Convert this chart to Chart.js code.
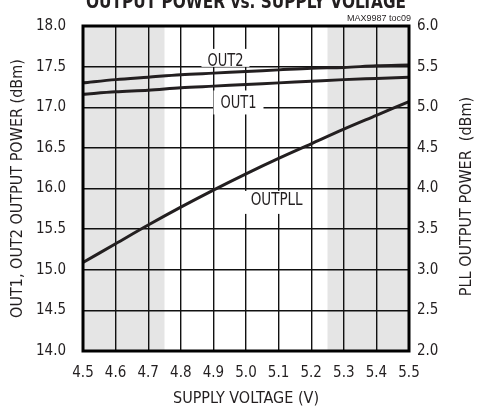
<!DOCTYPE html>
<html>
<head>
<meta charset="utf-8">
<script src="https://cdn.jsdelivr.net/npm/chart.js@4"></script>
<style>
  html, body { margin: 0; padding: 0; background: #fff; }
</style>
</head>
<body>
<canvas id="chart" width="486" height="408"></canvas>
<script>
// supply voltage (V)
var voltage = [4.5, 4.6, 4.7, 4.8, 4.9, 5.0, 5.1, 5.2, 5.3, 5.4, 5.5];

// left axis (dBm)
var out2 = [17.30, 17.34, 17.37, 17.40, 17.42, 17.44, 17.46, 17.48, 17.49, 17.51, 17.52];
var out1 = [17.16, 17.19, 17.21, 17.24, 17.26, 17.28, 17.30, 17.32, 17.34, 17.355, 17.37];

// right axis (dBm)
var outpll = [3.09, 3.32, 3.55, 3.77, 3.98, 4.18, 4.37, 4.55, 4.73, 4.90, 5.07];

var seriesNames = ['OUT2', 'OUT1', 'OUTPLL'];
var shadeRanges = [[4.5, 4.75], [5.25, 5.5]];

var chartTitle = 'OUTPUT POWER vs. SUPPLY VOLTAGE';
var tocText = 'MAX9987 toc09';
var xTitle = 'SUPPLY VOLTAGE (V)';
var yTitle = 'OUT1, OUT2 OUTPUT POWER (dBm)';
var y2Title = 'PLL OUTPUT POWER  (dBm)';

var FONT = '"DejaVu Sans Condensed", "Liberation Sans", sans-serif';
var INK = '#231f20';

function pts(ys) {
    return voltage.map((v, i) => ({x: v, y: ys[i]}));
}

// where the curve labels sit, in left-axis data units
var labelSpots = [
    {x: 4.937, y: 17.583, w: 36, padX: 6, padT: 11, padB: 7},
    {x: 4.977, y: 17.059, w: 36, padX: 7, padT: 12, padB: 12},
    {x: 5.094, y: 15.872, w: 52, padX: 7, padT: 8, padB: 15}
];

var decor = {
    id: 'decor',
    beforeDraw(chart) {
        const {ctx, chartArea: a, scales: {x}} = chart;
        ctx.save();
        ctx.fillStyle = '#e5e5e5';
        shadeRanges.forEach(r => {
            const x0 = x.getPixelForValue(r[0]);
            const x1 = x.getPixelForValue(r[1]);
            ctx.fillRect(x0, a.top, x1 - x0, a.bottom - a.top);
        });
        ctx.restore();
    },
    beforeDatasetsDraw(chart) {
        const {ctx, scales: {x, y}} = chart;
        ctx.save();
        ctx.font = '18px ' + FONT;
        ctx.textAlign = 'center';
        ctx.textBaseline = 'middle';
        seriesNames.forEach((name, i) => {
            const s = labelSpots[i];
            const cx = x.getPixelForValue(s.x);
            const cy = y.getPixelForValue(s.y);
            ctx.fillStyle = '#fff';
            ctx.fillRect(cx - s.w / 2 - s.padX, cy - s.padT, s.w + 2 * s.padX, s.padT + s.padB);
            ctx.fillStyle = INK;
            ctx.fillText(name, cx, cy + 1, s.w);
        });
        ctx.restore();
    },
    afterDatasetsDraw(chart) {
        const {ctx, chartArea: a} = chart;
        ctx.save();
        ctx.strokeStyle = '#000';
        ctx.lineWidth = 3;
        ctx.strokeRect(a.left, a.top, a.right - a.left, a.bottom - a.top);
        ctx.restore();
    },
    afterDraw(chart) {
        const {ctx, chartArea: a} = chart;
        ctx.save();
        ctx.fillStyle = INK;

        ctx.font = 'bold 20px ' + FONT;
        ctx.textAlign = 'center';
        ctx.textBaseline = 'alphabetic';
        ctx.fillText(chartTitle, (a.left + a.right) / 2, a.top - 18, 320);

        ctx.font = '9px "Liberation Sans", Arial, sans-serif';
        ctx.textAlign = 'right';
        ctx.fillText(tocText, a.right + 2, a.top - 5.5);

        ctx.font = '16px ' + FONT;
        ctx.textAlign = 'center';
        ctx.textBaseline = 'middle';
        ctx.translate(a.right + 57.5, (a.top + a.bottom) / 2 + 8);
        ctx.rotate(-Math.PI / 2);
        ctx.fillText(y2Title, 0, 0);
        ctx.restore();
    }
};

var tickFont = {family: FONT, size: 15};
var titleFont = {family: FONT, size: 16};

const ctx = document.getElementById('chart');

var myChart = new Chart(ctx, {
    type: 'line',
    data: {
        datasets: [
            {label: 'OUT2', data: pts(out2), yAxisID: 'y', borderColor: INK},
            {label: 'OUT1', data: pts(out1), yAxisID: 'y', borderColor: INK},
            {label: 'OUTPLL', data: pts(outpll), yAxisID: 'y2', borderColor: INK}
        ]
    },
    options: {
        responsive: false,
        animation: false,
        devicePixelRatio: 1,
        layout: {padding: {top: 25, right: 10, left: 0, bottom: 0}},
        datasets: {
            line: {
                borderWidth: 3,
                pointRadius: 0,
                fill: false,
                cubicInterpolationMode: 'monotone'
            }
        },
        plugins: {
            legend: {display: false},
            tooltip: {enabled: false},
            colors: {enabled: false}
        },
        scales: {
            x: {
                type: 'linear',
                min: 4.5,
                max: 5.5,
                afterFit: s => { s.height = 57; },
                grid: {color: '#111', lineWidth: 1.4, drawTicks: false},
                border: {display: false},
                ticks: {
                    stepSize: 0.1,
                    autoSkip: false,
                    maxRotation: 0,
                    padding: 13,
                    color: INK,
                    font: tickFont,
                    callback: v => v.toFixed(1)
                },
                title: {display: true, text: xTitle, color: INK, font: titleFont, padding: {top: 0, bottom: 0}}
            },
            y: {
                position: 'left',
                min: 14,
                max: 18,
                afterFit: s => { s.width = 83; },
                grid: {color: '#111', lineWidth: 1.4, drawTicks: false},
                border: {display: false},
                ticks: {
                    stepSize: 0.5,
                    padding: 17,
                    color: INK,
                    font: tickFont,
                    callback: v => v.toFixed(1)
                },
                title: {display: true, text: yTitle, color: INK, font: titleFont, padding: {top: 8, bottom: 0}}
            },
            y2: {
                position: 'right',
                min: 2,
                max: 6,
                afterFit: s => { s.width = 67; },
                grid: {display: false, drawTicks: false},
                border: {display: false},
                ticks: {
                    stepSize: 0.5,
                    padding: 8,
                    color: INK,
                    font: tickFont,
                    callback: v => v.toFixed(1)
                }
            }
        }
    },
    plugins: [decor]
});
</script>
</body>
</html>
